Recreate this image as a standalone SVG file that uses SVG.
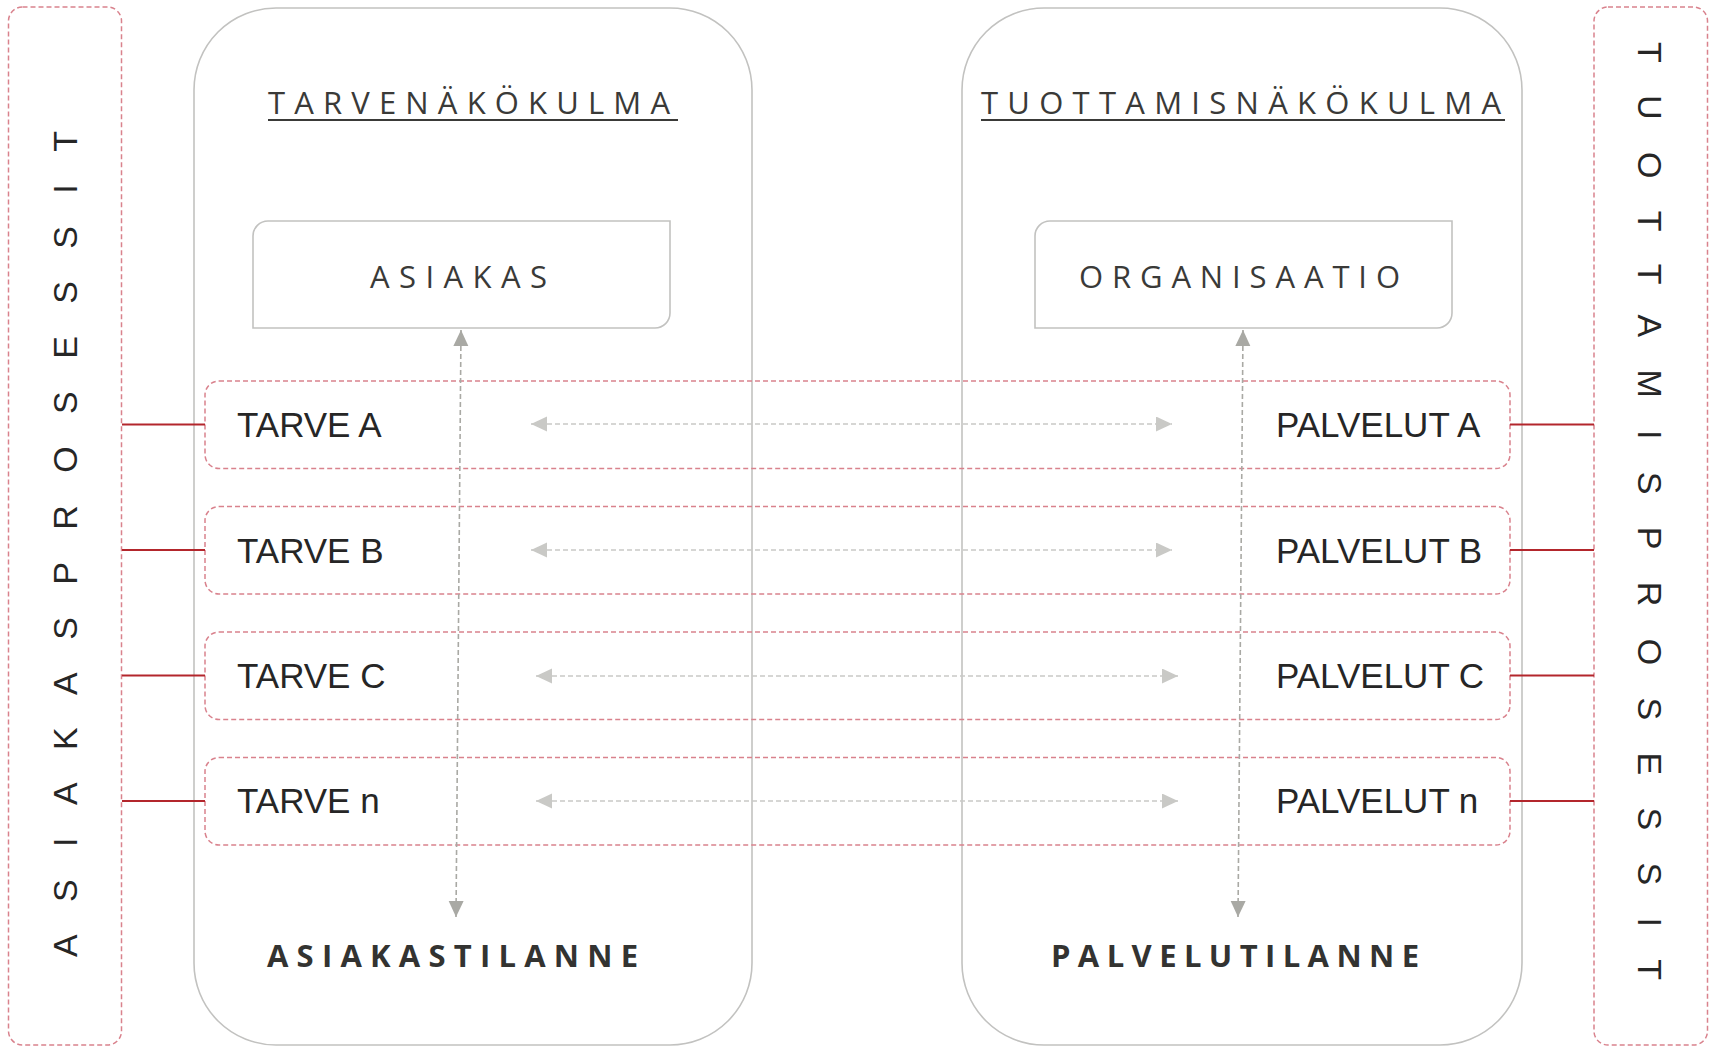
<svg xmlns="http://www.w3.org/2000/svg" width="1709" height="1047" viewBox="0 0 1709 1047">
<defs>
<style>
.bg{fill:#ffffff}
.big{fill:none;stroke:#c2c2c0;stroke-width:1.6}
.side{fill:none;stroke:#d9828d;stroke-width:1.5;stroke-dasharray:5 3}
.row{fill:none;stroke:#d9828d;stroke-width:1.5;stroke-dasharray:5 3}
.ent{fill:#ffffff;stroke:#c2c2c0;stroke-width:1.6}
.link{stroke:#b3262c;stroke-width:2;fill:none}
.harr{stroke:#c9c9c6;stroke-width:1.6;stroke-dasharray:5 3;fill:none;marker-start:url(#ah);marker-end:url(#ah)}
.varr{stroke:#a9a9a4;stroke-width:1.6;stroke-dasharray:5 3;fill:none;marker-start:url(#av);marker-end:url(#av)}
.head{font-family:"Open Sans","Liberation Sans",sans-serif;font-size:31px;fill:#3a3a38}
.sit{font-family:"Open Sans","Liberation Sans",sans-serif;font-size:31px;font-weight:700;fill:#333331}
.lbl{font-family:"Liberation Sans",Arial,sans-serif;font-size:35px;fill:#262626}
.vert{font-family:"Liberation Sans",Arial,sans-serif;font-size:34px;fill:#262626}
.ul{stroke:#3a3a38;stroke-width:2}
</style>
<marker id="ah" markerUnits="userSpaceOnUse" markerWidth="17" markerHeight="16" refX="16" refY="7.5" orient="auto-start-reverse">
<path d="M0,0 L16,7.5 L0,15 Z" fill="#c9c9c6"/>
</marker>
<marker id="av" markerUnits="userSpaceOnUse" markerWidth="17" markerHeight="16" refX="16" refY="7.5" orient="auto-start-reverse">
<path d="M0,0 L16,7.5 L0,15 Z" fill="#a9a9a4"/>
</marker>
</defs>
<rect class="bg" x="0" y="0" width="1709" height="1047"/>

<g id="asiakasprosessit">
<rect class="side" x="8.5" y="7" width="113" height="1038" rx="14"/>
<text class="vert" transform="translate(77,957) rotate(-90)" textLength="826" lengthAdjust="spacing">ASIAKASPROSESSIT</text>
</g>

<g id="tuottamisprosessit">
<rect class="side" x="1594" y="7" width="113.5" height="1038" rx="14"/>
<text class="vert" transform="translate(1638,42) rotate(90)" textLength="938" lengthAdjust="spacing">TUOTTAMISPROSESSIT</text>
</g>

<g id="tarvenakokulma">
<rect class="big" x="194" y="8" width="558" height="1037" rx="82"/>
<text class="head" x="268" y="114" textLength="402" lengthAdjust="spacing">TARVENÄKÖKULMA</text>
<line class="ul" x1="268" y1="120" x2="678" y2="120"/>
<text class="sit" x="267" y="967" textLength="371" lengthAdjust="spacing">ASIAKASTILANNE</text>
</g>

<g id="tuottamisnakokulma">
<rect class="big" x="962" y="8" width="560" height="1037" rx="82"/>
<text class="head" x="981" y="114" textLength="520" lengthAdjust="spacing">TUOTTAMISNÄKÖKULMA</text>
<line class="ul" x1="981" y1="120" x2="1505" y2="120"/>
<text class="sit" x="1051" y="967" textLength="368" lengthAdjust="spacing">PALVELUTILANNE</text>
</g>

<g id="asiakas">
<path class="ent" d="M253,328 V236 A15,15 0 0 1 268,221 H670 V313 A15,15 0 0 1 655,328 Z"/>
<text class="head" x="370" y="288" textLength="177" lengthAdjust="spacing">ASIAKAS</text>
</g>

<g id="organisaatio">
<path class="ent" d="M1035,328 V236 A15,15 0 0 1 1050,221 H1452 V313 A15,15 0 0 1 1437,328 Z"/>
<text class="head" x="1079" y="288" textLength="321" lengthAdjust="spacing">ORGANISAATIO</text>
</g>

<g id="row-a">
<rect class="row" x="205" y="381" width="1305" height="87.5" rx="14"/>
<text class="lbl" x="237" y="437">TARVE A</text>
<text class="lbl" x="1276" y="437">PALVELUT A</text>
</g>
<g id="row-b">
<rect class="row" x="205" y="506.5" width="1305" height="87.5" rx="14"/>
<text class="lbl" x="237" y="562.5">TARVE B</text>
<text class="lbl" x="1276" y="562.5">PALVELUT B</text>
</g>
<g id="row-c">
<rect class="row" x="205" y="632" width="1305" height="87.5" rx="14"/>
<text class="lbl" x="237" y="688">TARVE C</text>
<text class="lbl" x="1276" y="688">PALVELUT C</text>
</g>
<g id="row-n">
<rect class="row" x="205" y="757.5" width="1305" height="87.5" rx="14"/>
<text class="lbl" x="237" y="813">TARVE n</text>
<text class="lbl" x="1276" y="813">PALVELUT n</text>
</g>

<g id="connectors">
<line class="link" x1="122" y1="424.5" x2="205" y2="424.5"/>
<line class="link" x1="122" y1="550" x2="205" y2="550"/>
<line class="link" x1="122" y1="675.5" x2="205" y2="675.5"/>
<line class="link" x1="122" y1="801" x2="205" y2="801"/>
<line class="link" x1="1510" y1="424.5" x2="1594" y2="424.5"/>
<line class="link" x1="1510" y1="550" x2="1594" y2="550"/>
<line class="link" x1="1510" y1="675.5" x2="1594" y2="675.5"/>
<line class="link" x1="1510" y1="801" x2="1594" y2="801"/>
<line class="harr" x1="531" y1="424" x2="1172" y2="424"/>
<line class="harr" x1="531" y1="550" x2="1172" y2="550"/>
<line class="harr" x1="536" y1="676" x2="1178" y2="676"/>
<line class="harr" x1="536" y1="801" x2="1178" y2="801"/>
<line class="varr" x1="461" y1="330" x2="456" y2="917"/>
<line class="varr" x1="1243" y1="330" x2="1238" y2="917"/>
</g>
</svg>
